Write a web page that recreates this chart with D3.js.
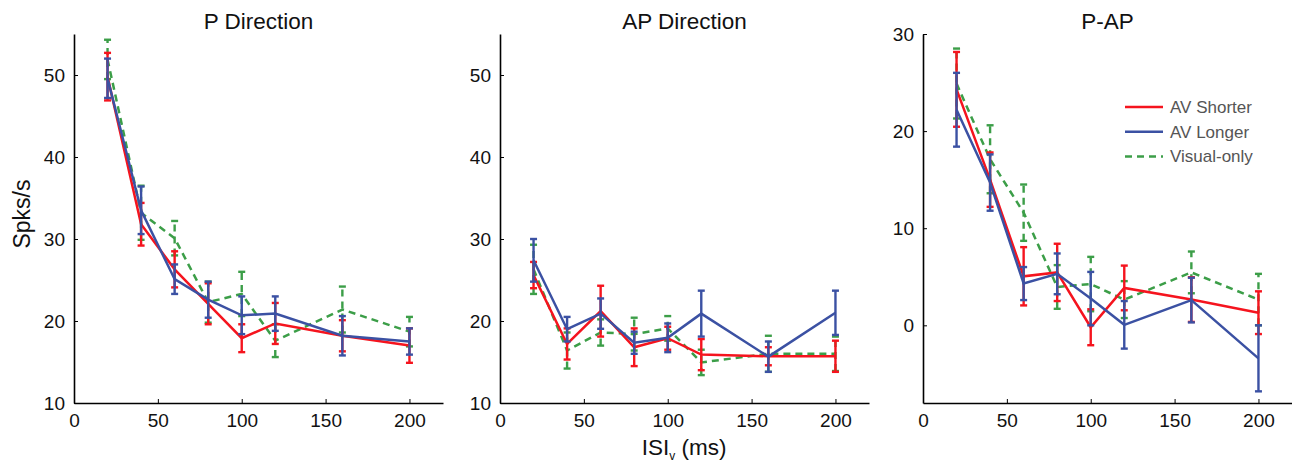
<!DOCTYPE html>
<html>
<head>
<meta charset="utf-8">
<script src="https://cdn.jsdelivr.net/npm/d3@7"></script>
<style>
  body { margin: 0; background: #fff; }
  svg { display: block; font-family: "Liberation Sans", Arial, Helvetica, sans-serif; }
</style>
</head>
<body>
<svg id="chart"></svg>
<script>
// ISI values (ms)
const isi = [20, 40, 60, 80, 100, 120, 160, 200];

// P Direction: means and error half-widths
const pShorter = [49.8, 31.8, 26.3, 22.1, 17.9, 19.7, 18.2, 17.0];
const pShorterErr = [2.9, 2.6, 2.2, 2.5, 1.7, 2.5, 1.9, 2.1];
const pLonger = [49.6, 33.5, 25.1, 22.6, 20.7, 20.9, 18.2, 17.5];
const pLongerErr = [2.4, 2.9, 1.8, 2.2, 2.3, 2.1, 2.4, 1.6];
const pVisual = [51.9, 33.2, 30.1, 22.3, 23.3, 17.6, 21.4, 18.7];
const pVisualErr = [2.4, 3.3, 2.1, 2.5, 2.7, 2.0, 2.8, 1.8];

// AP Direction
const apShorter = [25.6, 17.2, 21.2, 16.8, 17.9, 15.9, 15.7, 15.7];
const apShorterErr = [1.6, 1.9, 3.1, 2.3, 1.4, 1.9, 1.1, 1.9];
const apLonger = [27.4, 19.0, 20.9, 17.35, 17.95, 20.9, 15.65, 21.0];
const apLongerErr = [2.6, 1.5, 1.85, 1.35, 1.75, 2.8, 1.85, 2.7];
const apVisual = [26.3, 16.4, 18.6, 18.4, 19.1, 14.95, 16.0, 16.0];
const apVisualErr = [3.0, 2.2, 1.6, 2.0, 1.5, 1.55, 2.2, 2.1];

// P-AP
const diffShorter = [24.3, 15.0, 5.05, 5.45, -0.2, 3.85, 2.65, 1.3];
const diffShorterErr = [3.85, 2.8, 3.0, 2.95, 1.85, 2.3, 2.3, 2.2];
const diffLonger = [22.2, 14.7, 4.3, 5.3, 2.75, 0.05, 2.6, -3.4];
const diffLongerErr = [3.8, 2.9, 1.7, 2.1, 2.75, 2.45, 2.3, 3.4];
const diffVisual = [24.9, 17.1, 11.6, 3.95, 4.25, 2.65, 5.45, 2.65];
const diffVisualErr = [3.6, 3.5, 2.9, 2.25, 2.8, 1.9, 2.15, 2.65];

const seriesNames = ["AV Shorter", "AV Longer", "Visual-only"];
const xTicks = [0, 50, 100, 150, 200];
const dirTicks = [10, 20, 30, 40, 50];
const diffTicks = [0, 10, 20, 30];

const width = 1292;
const height = 464;
const marginTop = 34;
const marginBottom = 61;
const colors = { "AV Shorter": "#f5141e", "AV Longer": "#3b51a3", "Visual-only": "#3c9e48" };

const panels = [
  { title: "P Direction", left: 74, yDomain: [10, 55], yTicks: dirTicks,
    series: [[pVisual, pVisualErr, "Visual-only"], [pShorter, pShorterErr, "AV Shorter"], [pLonger, pLongerErr, "AV Longer"]] },
  { title: "AP Direction", left: 500, yDomain: [10, 55], yTicks: dirTicks,
    series: [[apVisual, apVisualErr, "Visual-only"], [apShorter, apShorterErr, "AV Shorter"], [apLonger, apLongerErr, "AV Longer"]] },
  { title: "P-AP", left: 923, yDomain: [-8, 30], yTicks: diffTicks,
    series: [[diffVisual, diffVisualErr, "Visual-only"], [diffShorter, diffShorterErr, "AV Shorter"], [diffLonger, diffLongerErr, "AV Longer"]] }
];
const panelWidth = 369;

const svg = d3.select("#chart")
  .attr("width", width)
  .attr("height", height);

panels.forEach(p => {
  const x = d3.scaleLinear()
    .domain([0, 220])
    .range([p.left, p.left + panelWidth]);

  const y = d3.scaleLinear()
    .domain(p.yDomain)
    .range([height - marginBottom, marginTop]);

  const g = svg.append("g");

  // axes, ticks pointing inward like matlab
  g.append("g")
    .attr("transform", `translate(0,${height - marginBottom})`)
    .call(d3.axisBottom(x).tickValues(xTicks).tickSize(-4).tickSizeOuter(0).tickPadding(11))
    .call(a => a.select(".domain").attr("stroke-width", 1.6))
    .call(a => a.selectAll("text").attr("font-size", 19).attr("fill", "#111"));

  g.append("g")
    .attr("transform", `translate(${p.left},0)`)
    .call(d3.axisLeft(y).tickValues(p.yTicks).tickSize(-4).tickSizeOuter(0).tickPadding(9))
    .call(a => a.select(".domain").attr("stroke-width", 1.6))
    .call(a => a.selectAll("text").attr("font-size", 19).attr("fill", "#111"));

  g.append("text")
    .attr("x", p.left + panelWidth / 2)
    .attr("y", 29)
    .attr("text-anchor", "middle")
    .attr("font-size", 22.5)
    .attr("fill", "#111")
    .text(p.title);

  p.series.forEach(([vals, errs, name]) => {
    const data = isi.map((d, i) => ({ x: d, y: vals[i], e: errs[i] }));
    const color = colors[name];
    const dash = name === "Visual-only" ? "7,5" : null;

    const line = d3.line()
      .x(d => x(d.x))
      .y(d => y(d.y));

    // error bars
    const eb = g.append("g")
      .attr("stroke", color)
      .attr("stroke-width", 2.4)
      .attr("stroke-dasharray", dash);

    eb.selectAll("line.bar")
      .data(data)
      .join("line")
      .attr("x1", d => x(d.x))
      .attr("x2", d => x(d.x))
      .attr("y1", d => y(d.y - d.e))
      .attr("y2", d => y(d.y + d.e));

    eb.selectAll("line.capTop")
      .data(data)
      .join("line")
      .attr("class", "capTop")
      .attr("stroke-dasharray", null)
      .attr("x1", d => x(d.x) - 3.5)
      .attr("x2", d => x(d.x) + 3.5)
      .attr("y1", d => y(d.y + d.e))
      .attr("y2", d => y(d.y + d.e));

    eb.selectAll("line.capBot")
      .data(data)
      .join("line")
      .attr("class", "capBot")
      .attr("stroke-dasharray", null)
      .attr("x1", d => x(d.x) - 3.5)
      .attr("x2", d => x(d.x) + 3.5)
      .attr("y1", d => y(d.y - d.e))
      .attr("y2", d => y(d.y - d.e));

    g.append("path")
      .datum(data)
      .attr("fill", "none")
      .attr("stroke", color)
      .attr("stroke-width", 2.5)
      .attr("stroke-dasharray", dash)
      .attr("d", line);
  });
});

// legend in the P-AP panel
const legend = svg.append("g");
seriesNames.forEach((name, i) => {
  const ly = 107 + i * 24.7;
  legend.append("line")
    .attr("x1", 1125).attr("x2", 1163)
    .attr("y1", ly).attr("y2", ly)
    .attr("stroke", colors[name])
    .attr("stroke-width", 2.5)
    .attr("stroke-dasharray", name === "Visual-only" ? "7,5" : null);
  legend.append("text")
    .attr("x", 1170)
    .attr("y", ly)
    .attr("dy", "0.35em")
    .attr("font-size", 17)
    .attr("fill", "#555")
    .text(name);
});

// axis titles
svg.append("text")
  .attr("transform", "translate(30,214) rotate(-90)")
  .attr("text-anchor", "middle")
  .attr("font-size", 23)
  .attr("fill", "#111")
  .text("Spks/s");

const xLabel = svg.append("text")
  .attr("x", 684)
  .attr("y", 455)
  .attr("text-anchor", "middle")
  .attr("font-size", 22.5)
  .attr("fill", "#111");
xLabel.append("tspan").text("ISI");
xLabel.append("tspan").attr("font-size", 12).attr("dy", 5).text("v");
xLabel.append("tspan").attr("dy", -5).text(" (ms)");
</script>
</body>
</html>
